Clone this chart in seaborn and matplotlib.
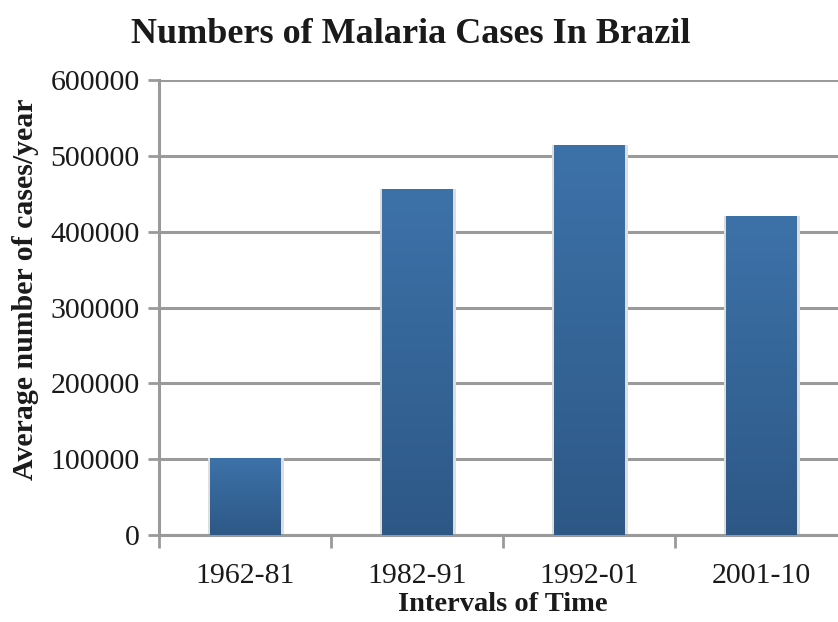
import numpy as np
import pandas as pd
import matplotlib
matplotlib.use("Agg")
import matplotlib.pyplot as plt
from matplotlib.patches import Rectangle
import seaborn as sns

intervals = ["1962-81", "1982-91", "1992-01", "2001-10"]
cases = [102000, 456000, 514000, 421000]
y_ticks = [0, 100000, 200000, 300000, 400000, 500000, 600000]

df = pd.DataFrame({"interval": intervals, "cases": cases})

sns.set_theme(style="white")
plt.rcParams["font.family"] = ["Liberation Serif", "DejaVu Serif"]

fig = plt.figure(figsize=(8.38, 6.22), dpi=100)
ax = fig.add_axes([159 / 838, 87 / 622, 688 / 838, 455 / 622])

sns.barplot(data=df, x="interval", y="cases", color="#3A6EA5", width=0.41,
            saturation=1, ax=ax, zorder=3)

# gradient fill + soft shadow on each bar
grad = np.linspace(0, 1, 256).reshape(-1, 1)
cmap = matplotlib.colors.LinearSegmentedColormap.from_list("bar", ["#2D5886", "#3D72A9"])
for p in list(ax.patches):
    x0, y0 = p.get_x(), p.get_y()
    w, h = p.get_width(), p.get_height()
    sh = Rectangle((x0 - 0.008, y0), w + 0.03, h, facecolor="#dedede",
                   edgecolor="none", zorder=2)
    ax.add_patch(sh)
    p.set_edgecolor("none")
    im = ax.imshow(grad, extent=(x0, x0 + w, y0, y0 + h), origin="lower",
                   cmap=cmap, aspect="auto", zorder=3.5)
    im.set_clip_path(p)

ax.set_xlim(-0.5, 3.5)
ax.set_ylim(0, 600000)
ax.set_yticks(y_ticks)
ax.set_yticklabels([str(v) for v in y_ticks])
ax.yaxis.grid(True, color="#9a9a9a", linewidth=2.2, zorder=1)
ax.set_axisbelow(True)

for s in ["top", "right"]:
    ax.spines[s].set_visible(False)
for s in ["left", "bottom"]:
    ax.spines[s].set_color("#9a9a9a")
    ax.spines[s].set_linewidth(2.2)

ax.set_xticks(np.arange(len(intervals)))
ax.set_xticklabels(intervals)
ax.set_xticks(np.arange(-0.5, len(intervals), 1), minor=True)
ax.tick_params(axis="x", which="major", length=0, pad=20, labelsize=21.5, colors="#1a1a1a")
ax.tick_params(axis="x", which="minor", length=9, width=2, color="#9a9a9a", direction="out", bottom=True)
ax.tick_params(axis="y", length=8, width=2, color="#9a9a9a", direction="out", left=True,
               labelsize=21.5, labelcolor="#1a1a1a", pad=6)

ax.set_xlabel("Intervals of Time", fontsize=20.5, fontweight="bold", color="#1a1a1a", labelpad=2)
ax.set_ylabel("Average number of cases/year", fontsize=21.5, fontweight="bold", color="#1a1a1a")
ax.yaxis.set_label_coords(-0.174, 0.54)
fig.text(0.49, 0.945, "Numbers of Malaria Cases In Brazil", ha="center", va="center",
         fontsize=26, fontweight="bold", color="#1a1a1a")

fig.savefig("out.png", dpi=100)
